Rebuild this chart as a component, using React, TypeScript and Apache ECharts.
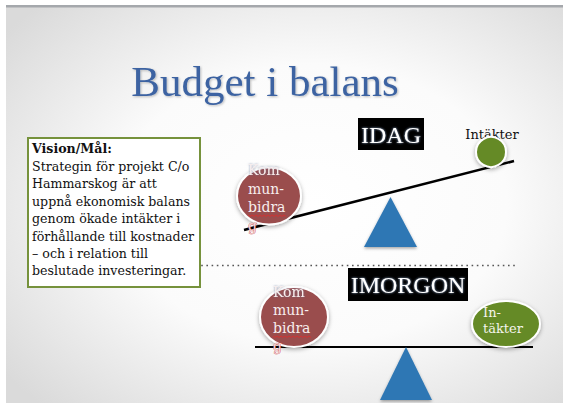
import React, { useEffect, useRef } from "react";
import * as echarts from "echarts";

const titleText = "Budget i balans";
const visionTitle = "Vision/Mål:";
const visionLines = [
  "Strategin för projekt C/o",
  "Hammarskog är att",
  "uppnå ekonomisk balans",
  "genom ökade intäkter i",
  "förhållande till kostnader",
  "– och i relation till",
  "beslutade investeringar.",
];
const scenarioLabels = ["IDAG", "IMORGON"];
const kommunLines = ["Kom", "mun-", "bidra", "g"];
const intakterLabel = "Intäkter";
const intakterLines = ["In-", "täkter"];

const SERIF = "'Liberation Serif', 'DejaVu Serif', serif";
const WIDE_SERIF = "'DejaVu Serif', 'Liberation Serif', serif";
const RED = "#9a4d4e";
const GREEN = "#658a25";
const BLUE = "#2e77b4";

function kommunText(x: number, y0: number, step: number): any[] {
  const els: any[] = [];
  kommunLines.forEach((t, i) => {
    const isFirst = i === 0;
    const isLast = i === kommunLines.length - 1;
    els.push({
      type: "text",
      x,
      y: y0 + i * step,
      z: 20,
      style: {
        text: t,
        fontFamily: WIDE_SERIF,
        fontSize: 14,
        fill: isLast ? "#f3d6d6" : "#f7eeee",
        verticalAlign: "middle",
        align: "left",
        textShadowColor: isFirst ? "rgba(90,110,150,0.7)" : "rgba(0,0,0,0)",
        textShadowBlur: isFirst ? 2 : 0,
        stroke: isLast ? "#c83a3a" : undefined,
        lineWidth: isLast ? 0.6 : 0,
      },
    });
  });
  // wavy spell-check underline under "bidra"
  const uy = y0 + 2 * step + 8;
  const pts: number[][] = [];
  for (let k = 0; k <= 19; k++) pts.push([x + k * 2, uy + (k % 2 === 0 ? 0 : 1.5)]);
  els.push({ type: "polyline", z: 21, shape: { points: pts }, style: { stroke: "#d83030", lineWidth: 0.9, fill: null } });
  return els;
}

export default function App() {
  const ref = useRef<HTMLDivElement>(null);
  useEffect(() => {
    document.body.style.margin = "0";
    const chart = echarts.init(ref.current!, null, { renderer: "svg" });
    const shadowed = { shadowBlur: 4, shadowOffsetX: 0, shadowOffsetY: 1.5, shadowColor: "rgba(0,0,0,0.35)" };
    const graphic: any[] = [
      // slide background
      {
        type: "rect",
        z: 0,
        shape: { x: 6, y: 5, width: 557, height: 398 },
        style: {
          fill: new echarts.graphic.RadialGradient(0.55, 0.5, 0.7, [
            { offset: 0, color: "#ffffff" },
            { offset: 0.5, color: "#fbfbfb" },
            { offset: 1, color: "#dadada" },
          ]),
        },
      },
      { type: "rect", z: 1, shape: { x: 6, y: 5, width: 557, height: 2.5 }, style: { fill: "#a5a8ac" } },
      // title
      {
        type: "text",
        x: 265,
        y: 81,
        z: 5,
        style: {
          text: titleText,
          fontFamily: SERIF,
          fontSize: 43,
          fill: "#3e64a2",
          align: "center",
          verticalAlign: "middle",
          textShadowColor: "rgba(0,0,0,0.25)",
          textShadowBlur: 2,
          textShadowOffsetX: 1,
          textShadowOffsetY: 1,
        },
      },
      // dotted divider
      {
        type: "line",
        z: 3,
        shape: { x1: 196, y1: 265.5, x2: 515, y2: 265.5 },
        style: { stroke: "#555555", lineWidth: 1.6, lineDash: [1.6, 3.6] },
      },
      // vision box
      {
        type: "rect",
        z: 6,
        shape: { x: 28, y: 138, width: 172, height: 149 },
        style: { fill: "#ffffff", stroke: "#76923c", lineWidth: 2 },
      },
      {
        type: "text",
        x: 32,
        y: 148.5,
        z: 7,
        style: { text: visionTitle, fontFamily: WIDE_SERIF, fontSize: 12.6, fontWeight: "bold", fill: "#111", verticalAlign: "middle" },
      },
      ...visionLines.map((t, i) => ({
        type: "text",
        x: 32,
        y: 166.5 + i * 17.4,
        z: 7,
        style: { text: t, fontFamily: WIDE_SERIF, fontSize: 12.6, fill: "#111", verticalAlign: "middle" },
      })),
      // ===== IDAG section =====
      { type: "rect", z: 6, shape: { x: 358, y: 118, width: 66, height: 32 }, style: { fill: "#000" } },
      {
        type: "text",
        x: 391,
        y: 134.5,
        z: 7,
        style: {
          text: scenarioLabels[0],
          fontFamily: SERIF,
          fontSize: 24,
          fill: "#ffffff",
          align: "center",
          verticalAlign: "middle",
          textShadowColor: "rgba(160,190,230,0.9)",
          textShadowBlur: 2,
        },
      },
      {
        type: "text",
        x: 492,
        y: 134,
        z: 7,
        style: { text: intakterLabel, fontFamily: WIDE_SERIF, fontSize: 13, fill: "#111", align: "center", verticalAlign: "middle" },
      },
      // beam
      {
        type: "line",
        z: 8,
        shape: { x1: 244, y1: 230, x2: 514, y2: 161 },
        style: { stroke: "#000", lineWidth: 2.6 },
      },
      // green ball
      {
        type: "circle",
        z: 9,
        shape: { cx: 491, cy: 152, r: 15 },
        style: { fill: GREEN, stroke: "#ffffff", lineWidth: 2, ...shadowed },
      },
      // red ball
      {
        type: "ellipse",
        z: 10,
        shape: { cx: 269, cy: 196, rx: 32, ry: 28.5 },
        style: { fill: RED, stroke: "#ffffff", lineWidth: 2, ...shadowed },
      },
      ...kommunText(248, 170, 18.5),
      // fulcrum
      {
        type: "polygon",
        z: 9,
        shape: { points: [[390.5, 197], [364, 247], [417, 247]] },
        style: { fill: BLUE, shadowBlur: 3, shadowOffsetY: 1.5, shadowColor: "rgba(0,0,0,0.35)" },
      },
      // ===== IMORGON section =====
      { type: "rect", z: 6, shape: { x: 348, y: 268, width: 120, height: 33 }, style: { fill: "#000" } },
      {
        type: "text",
        x: 408,
        y: 285,
        z: 7,
        style: {
          text: scenarioLabels[1],
          fontFamily: SERIF,
          fontSize: 24,
          fill: "#ffffff",
          align: "center",
          verticalAlign: "middle",
          textShadowColor: "rgba(160,190,230,0.9)",
          textShadowBlur: 2,
        },
      },
      {
        type: "line",
        z: 8,
        shape: { x1: 255, y1: 347, x2: 533, y2: 347 },
        style: { stroke: "#000", lineWidth: 2 },
      },
      {
        type: "ellipse",
        z: 10,
        shape: { cx: 294, cy: 317, rx: 34, ry: 30 },
        style: { fill: RED, stroke: "#ffffff", lineWidth: 2, ...shadowed },
      },
      ...kommunText(273, 292, 18),
      {
        type: "ellipse",
        z: 10,
        shape: { cx: 506, cy: 324, rx: 34, ry: 23 },
        style: { fill: GREEN, stroke: "#ffffff", lineWidth: 2, ...shadowed },
      },
      ...intakterLines.map((t, i) => ({
        type: "text",
        x: 483,
        y: 312 + i * 16,
        z: 11,
        style: { text: t, fontFamily: WIDE_SERIF, fontSize: 13, fill: "#f4f4ec", verticalAlign: "middle" },
      })),
      {
        type: "polygon",
        z: 9,
        shape: { points: [[406, 347], [380, 400], [432, 400]] },
        style: { fill: BLUE, shadowBlur: 3, shadowOffsetY: 1.5, shadowColor: "rgba(0,0,0,0.35)" },
      },
    ];
    chart.setOption({ animation: false, backgroundColor: "#ffffff", graphic });
    return () => chart.dispose();
  }, []);
  return <div ref={ref} style={{ width: 568, height: 403 }} />;
}
